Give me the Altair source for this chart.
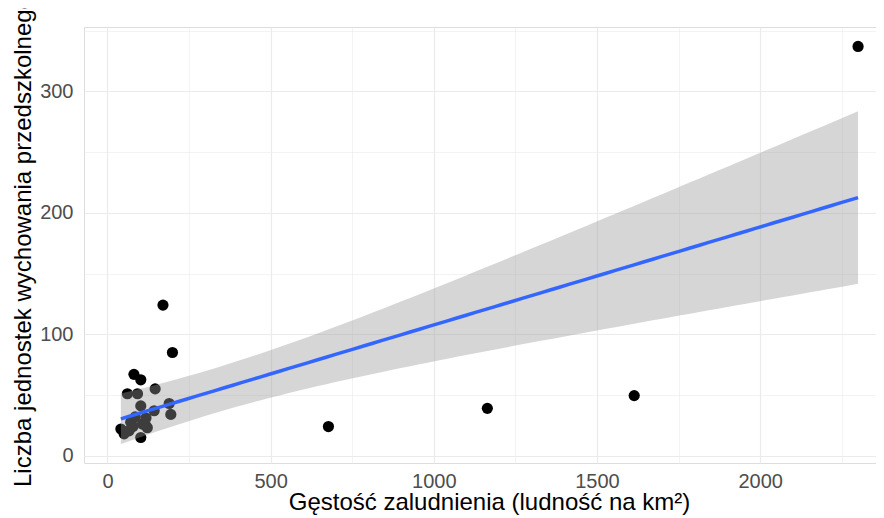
import altair as alt
import numpy as np
import pandas as pd

# data
density = [2300, 1614, 1164, 677, 170, 199, 81, 102, 146, 61, 92, 102, 143,
           189, 194, 41, 71, 66, 107, 122, 102, 51, 117, 85, 118, 78]
units = [337, 49.5, 39, 24, 124, 85, 67, 62.5, 55, 51, 51, 41, 37,
         43, 34, 22, 27.5, 20.5, 26, 23, 15, 18, 25, 32, 31, 24]

x_ticks = [0, 250, 500, 750, 1000, 1250, 1500, 1750, 2000, 2250]
y_ticks = [0, 50, 100, 150, 200, 250, 300, 350]

pts = pd.DataFrame({"x": density, "y": units})

# linear fit with 95% confidence band (as geom_smooth(method="lm"))
xa = np.array(density, dtype=float)
ya = np.array(units, dtype=float)
n = len(xa)
b, a = np.polyfit(xa, ya, 1)
res = ya - (a + b * xa)
s = np.sqrt(np.sum(res ** 2) / (n - 2))
sxx = np.sum((xa - xa.mean()) ** 2)
t = 2.064
xg = np.linspace(xa.min(), xa.max(), 80)
fit = a + b * xg
se = s * np.sqrt(1 / n + (xg - xa.mean()) ** 2 / sxx)
band = pd.DataFrame({"x": xg, "fit": fit, "lo": fit - t * se, "hi": fit + t * se})

xscale = alt.Scale(domain=[-72, 2355], nice=False, zero=False)
yscale = alt.Scale(domain=[-6, 353], nice=False, zero=False)

FONT = "Liberation Sans"

xaxis = alt.Axis(
    values=x_ticks, format="d",
    labelExpr="datum.value % 500 === 0 ? datum.label : ''",
    title="Gęstość zaludnienia (ludność na km²)",
    grid=True, gridColor="#EBEBEB",
    gridWidth={"condition": {"test": "datum.value % 500 === 0", "value": 1.2}, "value": 0.6},
    ticks=False, domain=False,
    labelFont=FONT, labelFontSize=20, labelColor="#4D4D4D", labelPadding=8,
    titleFont=FONT, titleFontSize=24, titleFontWeight="normal", titleColor="#000000",
    titleX=405, titleY=46, titleAlign="center", titleBaseline="alphabetic",
)
yaxis = alt.Axis(
    values=y_ticks, format="d",
    labelExpr="datum.value % 100 === 0 ? datum.label : ''",
    title="Liczba jednostek wychowania przedszkolnego",
    grid=True, gridColor="#EBEBEB",
    gridWidth={"condition": {"test": "datum.value % 100 === 0", "value": 1.2}, "value": 0.6},
    ticks=False, domain=False,
    labelFont=FONT, labelFontSize=20, labelColor="#4D4D4D", labelPadding=11,
    titleFont=FONT, titleFontSize=24, titleFontWeight="normal", titleColor="#000000",
    titleAngle=270, titleX=-54, titleY=214, titleAlign="center", titleBaseline="alphabetic",
)

points = alt.Chart(pts).mark_circle(size=125, color="#000000", opacity=1).encode(
    x=alt.X("x:Q", scale=xscale, axis=xaxis),
    y=alt.Y("y:Q", scale=yscale, axis=yaxis),
)
ribbon = alt.Chart(band).mark_area(color="#999999", opacity=0.4).encode(
    x=alt.X("x:Q", scale=xscale),
    y=alt.Y("lo:Q", scale=yscale),
    y2="hi:Q",
)
line = alt.Chart(band).mark_line(color="#3366FF", strokeWidth=3.5).encode(
    x=alt.X("x:Q", scale=xscale),
    y=alt.Y("fit:Q", scale=yscale),
)

chart = alt.layer(points, ribbon, line).properties(
    width=792, height=436,
    autosize=alt.AutoSizeParams(type="none"),
    padding={"left": 76, "top": 19, "right": 0, "bottom": 52},
).configure_view(stroke=None).configure(background="white")

chart.save("out.html", embed_options={"renderer": "svg", "actions": False})
